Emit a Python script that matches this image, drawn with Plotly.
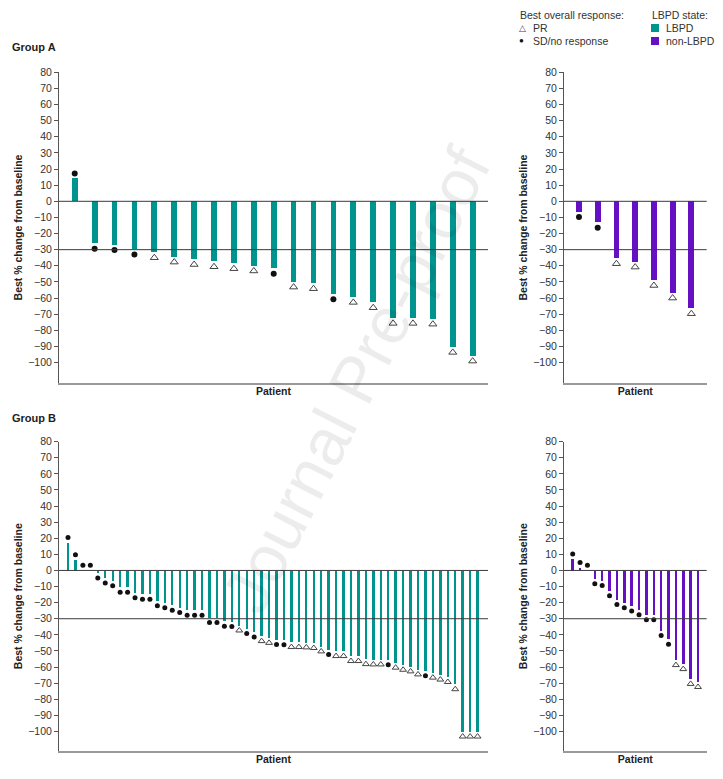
import plotly.graph_objects as go

TEAL = "#00948f"
PURPLE = "#6610c4"
FONT = "Liberation Sans, Arial, sans-serif"

# ---------------- data ----------------
# Group A, LBPD (best % change from baseline, sorted)
a_lbpd_values = [14, -26.2, -27, -29.8, -31.8, -34.5, -36, -37.4, -38.6, -40, -41.7,
                 -50, -51, -57.6, -59.5, -62.8, -72.5, -72.5, -73, -90.5, -95.9]
a_lbpd_resp = ["SD", "SD", "SD", "SD", "PR", "PR", "PR", "PR", "PR", "PR", "SD",
               "PR", "PR", "SD", "PR", "PR", "PR", "PR", "PR", "PR", "PR"]

# Group A, non-LBPD
a_non_values = [-6.6, -13.2, -35.5, -37.6, -49, -56.8, -66.5]
a_non_resp = ["SD", "SD", "PR", "PR", "PR", "PR", "PR"]

# Group B, LBPD
b_lbpd_values = [17.2, 6.5, 0, 0, -1.5, -4.6, -6.3, -10.4, -10.4, -13.7, -14.7, -14.7,
                 -18.7, -19.9, -21.5, -23, -24.6, -24.6, -24.6, -29.2, -29.2, -31.4,
                 -31.6, -34.1, -36, -38.2, -40.7, -41.8, -42.8, -43, -44.4, -44.4,
                 -44.6, -45, -47.1, -49, -50, -50, -53.1, -53.1, -55, -55.2, -55.2,
                 -55.4, -57.2, -58.5, -59.5, -61.4, -62.3, -63.4, -64.6, -66.1, -70.6,
                 -100, -100, -100]
b_lbpd_resp = (["SD"] * 23 + ["PR", "SD", "SD", "PR", "PR", "SD", "SD"] + ["PR"] * 5 +
               ["SD"] + ["PR"] * 7 + ["SD"] + ["PR"] * 4 + ["SD"] + ["PR"] * 7)

# Group B, non-LBPD
b_non_values = [7, 1.8, 0, -5.1, -6.2, -12.5, -18, -20, -22, -24.4, -27.5, -27.5,
                -37.2, -42.7, -55.6, -58.1, -67.3, -69.2]
b_non_resp = ["SD"] * 14 + ["PR"] * 4

y_ticks = list(range(80, -101, -10))
response_threshold = -30

# ---------------- figure ----------------
OFF = 8            # page body margin of the html page
W, H = 723 - OFF, 779 - OFF
fig = go.Figure()

def px_x(p):
    return (p - OFF) / W

def px_y(p):
    return 1 - (p - OFF) / H

panels = [
    # values, responses, color, axis suffix, x-range, domain-x(px), domain-y(px), bar width, dot, tri
    (a_lbpd_values, a_lbpd_resp, TEAL, "", [0.21, 21.77], (59, 488), (72.3, 382.7), 0.29, 6, 7),
    (a_non_values, a_non_resp, PURPLE, "2", [0.2, 7.82], (564, 706.7), (72.3, 382.7), 0.31, 6, 7),
    (b_lbpd_values, b_lbpd_resp, TEAL, "3", [-0.21, 57.4], (59, 488), (441.7, 750.7), 0.32, 5, 6),
    (b_non_values, b_non_resp, PURPLE, "4", [-0.18, 19.18], (564, 706.7), (441.7, 750.7), 0.34, 5, 6),
]

GAP = 3.2  # marker offset from bar end (in % units)
layout_axes = {}
shapes = []
for vals, resp, color, sfx, xr, dx, dy, bw, dsize, tsize in panels:
    xs = list(range(1, len(vals) + 1))
    xa = "x" + sfx
    ya = "y" + sfx
    fig.add_trace(go.Bar(x=xs, y=vals, marker=dict(color=color, line=dict(width=0)),
                         width=bw, xaxis=xa, yaxis=ya, showlegend=False, hoverinfo="y"))
    my = [v + GAP if v >= 0 else v - GAP for v in vals]
    sd_x = [x for x, r in zip(xs, resp) if r == "SD"]
    sd_y = [y for y, r in zip(my, resp) if r == "SD"]
    pr_x = [x for x, r in zip(xs, resp) if r == "PR"]
    pr_y = [y for y, r in zip(my, resp) if r == "PR"]
    fig.add_trace(go.Scatter(x=sd_x, y=sd_y, mode="markers", xaxis=xa, yaxis=ya,
                             marker=dict(symbol="circle", size=dsize, color="#111111"),
                             showlegend=False, hoverinfo="y"))
    fig.add_trace(go.Scatter(x=pr_x, y=pr_y, mode="markers", xaxis=xa, yaxis=ya,
                             marker=dict(symbol="triangle-up-open", size=tsize, color="#444444",
                                         line=dict(width=1, color="#444444")),
                             showlegend=False, hoverinfo="y"))
    yr = [-112.5, 80] if sfx in ("", "2") else [-112, 80]
    xkey = "xaxis" + sfx
    ykey = "yaxis" + sfx
    layout_axes[xkey] = dict(domain=[px_x(dx[0]), px_x(dx[1])], range=xr, anchor=ya,
                             automargin=False,
                             showticklabels=False, ticks="", showgrid=False, zeroline=False,
                             showline=True, linecolor="#999999", linewidth=2,
                             title=dict(text="<b>Patient</b>", standoff=4,
                                        font=dict(size=10.5, color="#222222")))
    layout_axes[ykey] = dict(domain=[px_y(dy[1]), px_y(dy[0])], range=yr, anchor=xa,
                             automargin=False,
                             tickvals=y_ticks, ticks="outside", ticklen=4, tickcolor="#555555",
                             showgrid=False, zeroline=False, showline=True,
                             linecolor="#555555", linewidth=1,
                             tickfont=dict(size=10.5, color="#333333"),
                             title=dict(text="<b>Best % change from baseline</b>", standoff=3,
                                        font=dict(size=10.5, color="#222222")))
    for yv in (0, response_threshold):
        shapes.append(dict(type="line", xref=xa + " domain", yref=ya, x0=0, x1=1,
                           y0=yv, y1=yv, line=dict(color="#3a3a3a", width=1)))

LEG_Y = (15, 28, 41)
annotations = [
    dict(text="<b>Group A</b>", x=px_x(10), y=px_y(47), xref="paper", yref="paper",
         xanchor="left", yanchor="middle", showarrow=False, font=dict(size=11, color="#222")),
    dict(text="<b>Group B</b>", x=px_x(10), y=px_y(418), xref="paper", yref="paper",
         xanchor="left", yanchor="middle", showarrow=False, font=dict(size=11, color="#222")),
    dict(text="Best overall response:", x=px_x(518), y=px_y(LEG_Y[0]), xref="paper", yref="paper",
         xanchor="left", yanchor="middle", showarrow=False, font=dict(size=10.5, color="#333")),
    dict(text="△", x=px_x(517), y=px_y(LEG_Y[1]), xref="paper", yref="paper",
         xanchor="left", yanchor="middle", showarrow=False, font=dict(size=9, color="#444")),
    dict(text="PR", x=px_x(531), y=px_y(LEG_Y[1]), xref="paper", yref="paper",
         xanchor="left", yanchor="middle", showarrow=False, font=dict(size=10.5, color="#333")),
    dict(text="●", x=px_x(517), y=px_y(LEG_Y[2]), xref="paper", yref="paper",
         xanchor="left", yanchor="middle", showarrow=False, font=dict(size=8, color="#111")),
    dict(text="SD/no response", x=px_x(531), y=px_y(LEG_Y[2]), xref="paper", yref="paper",
         xanchor="left", yanchor="middle", showarrow=False, font=dict(size=10.5, color="#333")),
    dict(text="LBPD state:", x=px_x(650), y=px_y(LEG_Y[0]), xref="paper", yref="paper",
         xanchor="left", yanchor="middle", showarrow=False, font=dict(size=10.5, color="#333")),
    dict(text="LBPD", x=px_x(664), y=px_y(LEG_Y[1]), xref="paper", yref="paper",
         xanchor="left", yanchor="middle", showarrow=False, font=dict(size=10.5, color="#333")),
    dict(text="non-LBPD", x=px_x(664), y=px_y(LEG_Y[2]), xref="paper", yref="paper",
         xanchor="left", yanchor="middle", showarrow=False, font=dict(size=10.5, color="#333")),
    dict(text="Journal Pre-proof", x=px_x(356), y=px_y(380), xref="paper", yref="paper",
         xanchor="center", yanchor="middle", showarrow=False, textangle=-63,
         font=dict(size=66, color="rgba(0,0,0,0.075)")),
]
for ycen, col in ((LEG_Y[1], TEAL), (LEG_Y[2], PURPLE)):
    shapes.append(dict(type="rect", xref="paper", yref="paper",
                       x0=px_x(651), x1=px_x(659), y0=px_y(ycen + 4), y1=px_y(ycen - 4),
                       fillcolor=col, line=dict(width=0)))

fig.update_layout(width=W, height=H, margin=dict(l=0, r=0, t=0, b=0, autoexpand=False),
                  paper_bgcolor="white", plot_bgcolor="white",
                  font=dict(family=FONT, color="#222"),
                  bargap=0, shapes=shapes, annotations=annotations, **layout_axes)

fig.write_html("out.html")
